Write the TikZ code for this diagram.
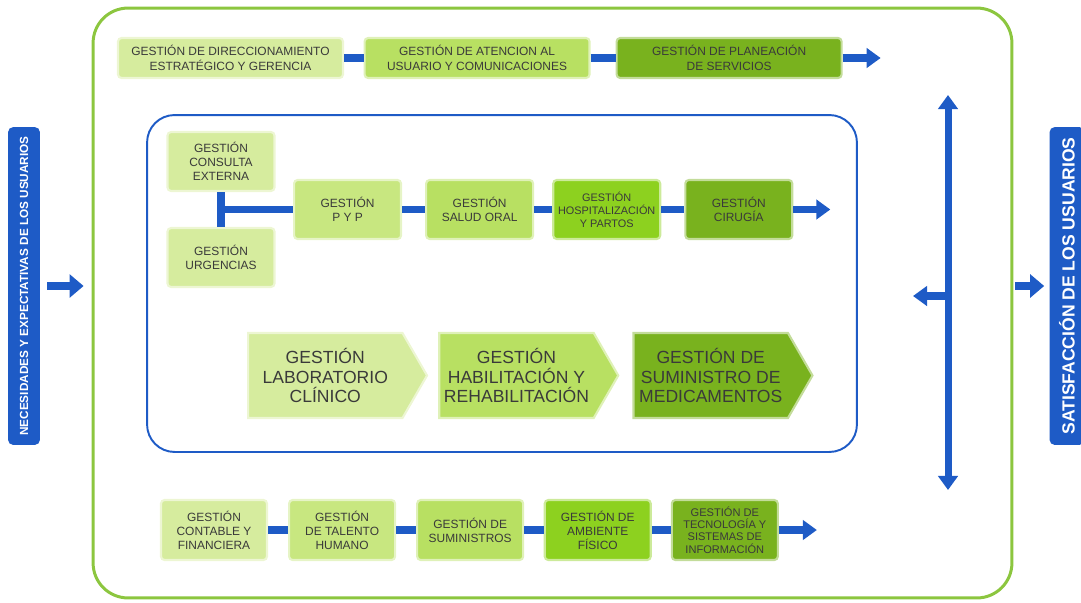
\documentclass[tikz,border=0pt]{standalone}
\usepackage{fontspec}
\setmainfont{Liberation Sans}
\usepackage{tikz}
\usetikzlibrary{positioning,shapes.symbols,arrows.meta}
\definecolor{bluebar}{HTML}{1E5BC6}
\definecolor{framegreen}{HTML}{8CC63F}
\definecolor{txt}{HTML}{3A3A3A}
\definecolor{gA}{HTML}{D6EC9E}
\definecolor{gB}{HTML}{C8E780}
\definecolor{gC}{HTML}{B8E062}
\definecolor{gD}{HTML}{8DD11F}
\definecolor{gE}{HTML}{79B21E}
\tikzstyle{cA}=[fill=gA, draw=gA!45!white]
\tikzstyle{cB}=[fill=gB, draw=gB!45!white]
\tikzstyle{cC}=[fill=gC, draw=gC!45!white]
\tikzstyle{cD}=[fill=gD, draw=gD!45!white]
\tikzstyle{cE}=[fill=gE, draw=gE!45!white]
\tikzstyle{top}=[%
      rectangle, rounded corners=2pt, line width=1.2pt, text=txt, align=center,
      minimum width=4.5cm, minimum height=0.8cm, inner sep=1pt,
      font=\fontsize{6.8}{8.4}\selectfont
]
\tikzstyle{mid}=[%
      rectangle, rounded corners=2pt, line width=1.2pt, text=txt, align=center,
      minimum width=2.14cm, minimum height=1.18cm, inner sep=1pt,
      font=\fontsize{6.8}{7.9}\selectfont
]
\tikzstyle{bot}=[%
      rectangle, rounded corners=2pt, line width=1.2pt, text=txt, align=center,
      minimum width=2.12cm, minimum height=1.2cm, inner sep=1pt,
      font=\fontsize{6.8}{7.9}\selectfont
]
\tikzstyle{sig}=[%
      signal, signal to=east, signal pointer angle=120, line width=1.2pt,
      text=txt, align=center, minimum width=3.58cm, minimum height=1.7cm, inner sep=1pt,
      font=\fontsize{10}{11}\selectfont
]
\tikzstyle{tag}=[%
      rectangle, rounded corners=3pt, fill=bluebar, text=white, rotate=90,
      minimum width=6.36cm, inner sep=1pt
]
\tikzstyle{bar}=[draw=bluebar, line width=4.5pt]
\tikzstyle{bararrow}=[bar, -{Triangle[width=11pt,length=8pt]}]

\begin{document}
\begin{tikzpicture}[x=0.02cm, y=-0.02cm]
    \useasboundingbox (0,0) rectangle (1081,602);

    % frames
    \node[draw=framegreen, line width=1.7pt, rounded corners=0.7cm,
          minimum width=18.38cm, minimum height=11.8cm] (frame) at (552.5,303) {};
    \node[draw=bluebar, line width=1.1pt, rounded corners=0.55cm,
          minimum width=14.2cm, minimum height=6.74cm] (core) at (502,283.5) {};

    % side labels
    \node[tag, minimum height=0.64cm, font=\bfseries\fontsize{6.7}{7}\selectfont]
          (needs) at (24,286) {NECESIDADES Y EXPECTATIVAS DE LOS USUARIOS};
    \node[tag, minimum height=0.7cm, font=\bfseries\fontsize{10}{11}\selectfont]
          (sat) at (1067,286) {SATISFACCIÓN DE LOS USUARIOS};

    % strategic row
    \node[top, cA] (dir) at (230.5,58) {GESTIÓN DE DIRECCIONAMIENTO\\ESTRATÉGICO Y GERENCIA};
    \node[top, cC] (aten) [right=0.39cm of dir] {GESTIÓN DE ATENCION AL\\USUARIO Y COMUNICACIONES};
    \node[top, cE] (plan) [right=0.5cm of aten] {GESTIÓN DE PLANEACIÓN\\DE SERVICIOS};
    \coordinate[right=0.76cm of plan] (topend);

    % assistance row
    \node[mid, cA] (cons) at (221,161.5) {GESTIÓN\\CONSULTA\\EXTERNA};
    \node[mid, cA] (urg) at (221,257.5) {GESTIÓN\\URGENCIAS};
    \node[mid, cB, anchor=west] (pyp) at (293,209.5) {GESTIÓN\\P Y P};
    \node[mid, cC] (oral) [right=0.46cm of pyp] {GESTIÓN\\SALUD ORAL};
    \node[mid, cD, font=\fontsize{6.2}{7.4}\selectfont] (hosp) [right=0.36cm of oral] {GESTIÓN\\HOSPITALIZACIÓN\\Y PARTOS};
    \node[mid, cE] (cir) [right=0.46cm of hosp] {GESTIÓN\\CIRUGÍA};
    \coordinate[right=0.74cm of cir] (midend);

    % support to assistance
    \node[sig, cA, anchor=west] (lab) at (247,375.5) {GESTIÓN\\LABORATORIO\\CLÍNICO};
    \node[sig, cC] (hab) [right=0.2cm of lab] {GESTIÓN\\HABILITACIÓN Y\\REHABILITACIÓN};
    \node[sig, cE] (med) [right=0.26cm of hab] {GESTIÓN DE\\SUMINISTRO DE\\MEDICAMENTOS};

    % support row
    \node[bot, cA] (cont) at (214,530) {GESTIÓN\\CONTABLE Y\\FINANCIERA};
    \node[bot, cB] (tal) [right=0.4cm of cont] {GESTIÓN\\DE TALENTO\\HUMANO};
    \node[bot, cC] (sum) [right=0.4cm of tal] {GESTIÓN DE\\SUMINISTROS};
    \node[bot, cD] (amb) [right=0.39cm of sum] {GESTIÓN DE\\AMBIENTE\\FÍSICO};
    \node[bot, cE, font=\fontsize{6.3}{7.1}\selectfont] (tec) [right=0.38cm of amb] {GESTIÓN DE\\TECNOLOGÍA Y\\SISTEMAS DE\\INFORMACIÓN};
    \coordinate[right=0.76cm of tec] (botend);

    % feedback
    \coordinate (vtop) at (948,95);
    \coordinate (vbot) at (948,490);
    \coordinate (vmid) at (948,296);
    \coordinate (vleft) at (913,296);

    \draw[bar] (dir) -- (aten);
    \draw[bar] (aten) -- (plan);
    \draw[bararrow] (plan) -- (topend);

    \draw[bar] (cons.south) -- (urg.north);
    \draw[bar] (cons.south |- pyp.west) -- (pyp.west);
    \draw[bar] (pyp) -- (oral);
    \draw[bar] (oral) -- (hosp);
    \draw[bar] (hosp) -- (cir);
    \draw[bararrow] (cir) -- (midend);

    \draw[bar] (cont) -- (tal);
    \draw[bar] (tal) -- (sum);
    \draw[bar] (sum) -- (amb);
    \draw[bar] (amb) -- (tec);
    \draw[bararrow] (tec) -- (botend);

    \draw[draw=bluebar, line width=4pt, {Triangle[width=11pt,length=8pt]}-{Triangle[width=11pt,length=8pt]}] (vtop) -- (vbot);
    \draw[draw=bluebar, line width=4pt, -{Triangle[width=11pt,length=8pt]}] (vmid) -- (vleft);

    \draw[draw=bluebar, line width=5pt, -{Triangle[width=13pt,length=8pt]}, shorten <=0.14cm, shorten >=0.16cm]
          (needs.south) -- (needs.south -| frame.west);
    \draw[draw=bluebar, line width=5pt, -{Triangle[width=13pt,length=8pt]}, shorten <=0.04cm, shorten >=0.1cm]
          (frame.east |- sat.north) -- (sat.north);
\end{tikzpicture}
\end{document}
